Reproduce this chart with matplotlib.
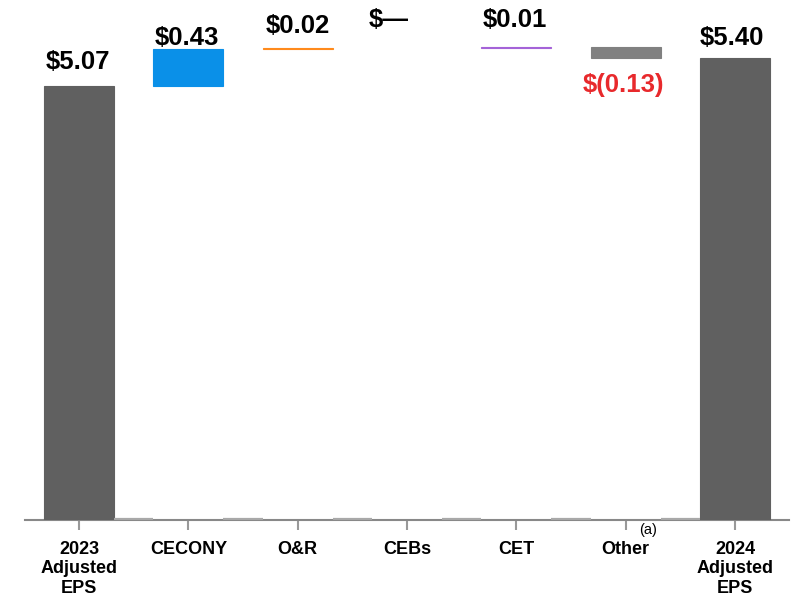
import matplotlib
matplotlib.use("Agg")
import matplotlib.pyplot as plt
import numpy as np

plt.rcParams['font.family'] = ['Liberation Sans', 'DejaVu Sans']

categories = ["2023\nAdjusted\nEPS", "CECONY", "O&R", "CEBs", "CET", "Other", "2024\nAdjusted\nEPS"]
start_value = 5.07
deltas = [0.43, 0.02, 0.00, 0.01, -0.13]
end_value = 5.40
value_labels = ["$5.07", "$0.43", "$0.02", "$\u2014", "$0.01", "$(0.13)", "$5.40"]

colors = ["#606060", "#0a90e8", "#ff8a1c", "#ffffff", "#a463d8", "#808080", "#606060"]
label_colors = ["black", "black", "black", "black", "black", "#e8292c", "black"]
# label offsets (points) relative to the top (or bottom for negatives)
label_dx = [-1, -1, 0, -13, -1, -1.5, -2]
label_dy = [12, 3, 10.5, 14.5, 14, -24.5, 9]

# compute waterfall
bottoms = [0.0]
heights = [start_value]
running = start_value
for d in deltas:
    if d >= 0:
        bottoms.append(running)
        heights.append(d)
    else:
        bottoms.append(running + d)
        heights.append(-d)
    running += d
bottoms.append(0.0)
heights.append(end_value)

fig = plt.figure(figsize=(7.98, 6.02), dpi=100)
ax = fig.add_axes([25/798, 82/602, 764/798, 520/602])

x = np.arange(len(categories))
width = 0.64
for i in range(len(categories)):
    if heights[i] == 0:
        continue
    ax.bar(x[i], heights[i], width=width, bottom=bottoms[i], color=colors[i],
           edgecolor=colors[i], linewidth=0.8, zorder=3)

# baseline connectors between bars
for i in range(len(categories) - 1):
    ax.plot([x[i] + width/2, x[i+1] - width/2], [0.012, 0.012], color="#a8a8a8",
            lw=1.6, zorder=4, solid_capstyle="butt")

# value labels
for i in range(len(categories)):
    if i == 5:
        y = bottoms[i]
    else:
        y = bottoms[i] + heights[i]
    ax.annotate(value_labels[i], xy=(x[i], y), xytext=(label_dx[i], label_dy[i]),
                textcoords="offset points", ha="center", va="baseline",
                fontsize=18.5, fontweight="bold", color=label_colors[i], zorder=5)

ax.set_xlim(-0.494, 6.494)
ax.set_ylim(0, 6.075)
ax.set_xticks(x)
ax.set_xticklabels(categories, fontsize=13, fontweight="bold", linespacing=1.2)
ax.set_yticks([])
for s in ["top", "right", "left"]:
    ax.spines[s].set_visible(False)
ax.spines["bottom"].set_color("#888888")
ax.spines["bottom"].set_linewidth(1.5)
ax.tick_params(axis="x", length=7, width=1.5, color="#999999", pad=8)

# footnote marker for Other
ax.annotate("(a)", xy=(x[5], 0), xytext=(16, -10), textcoords="offset points",
            ha="center", va="baseline", fontsize=10.5, color="black")

fig.savefig("out.png", dpi=100)
